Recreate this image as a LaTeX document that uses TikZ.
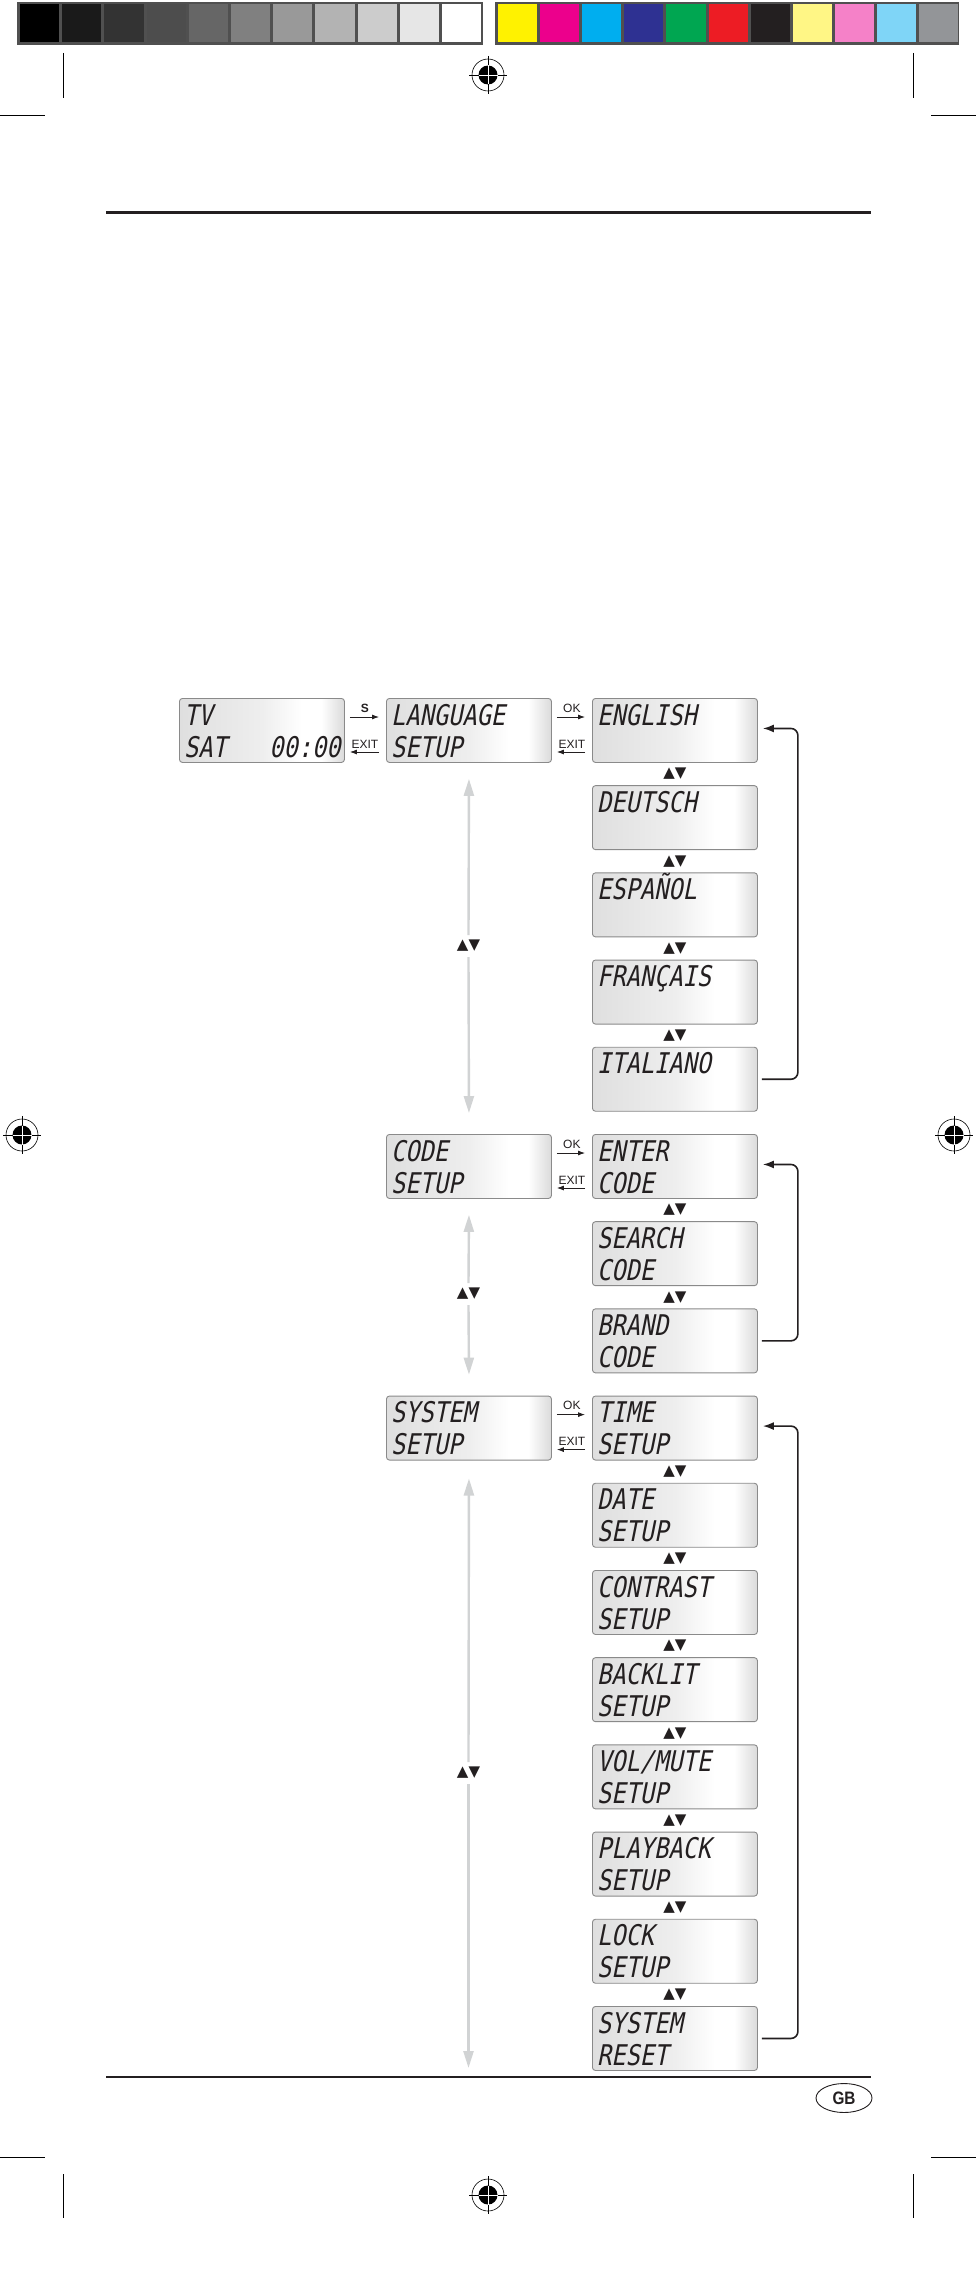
\documentclass[tikz,border=0pt]{standalone}
\usepackage{fontspec}
\setmainfont{Liberation Sans}
\newfontfamily\lcdfont[FakeStretch=0.83,FakeSlant=0.2]{DejaVu Sans Mono}
\newfontfamily\symfont{DejaVu Sans}
\newfontfamily\gbfont[FakeStretch=0.85]{Liberation Sans}
\usetikzlibrary{arrows.meta,calc,shapes.geometric}

\definecolor{lcdA}{HTML}{DFDFDF}
\definecolor{lcdB}{HTML}{EEEEEE}
\definecolor{lcdC}{HTML}{EAEAEA}
\definecolor{lcdD}{HTML}{DADADA}
\definecolor{boxedge}{HTML}{8A8A8A}
\definecolor{ink}{HTML}{231F20}
\definecolor{arrowgray}{HTML}{D1D3D4}
\definecolor{framegray}{HTML}{505050}

\pgfdeclarehorizontalshading{lcdshade}{100bp}{color(0bp)=(lcdA); color(25bp)=(lcdA); color(50bp)=(lcdB); color(62bp)=(white); color(68bp)=(white); color(72bp)=(lcdC); color(75bp)=(lcdD); color(100bp)=(lcdD)}

\tikzset{
  lcdbox/.style={rectangle, rounded corners=3pt, draw=boxedge, line width=0.9pt,
    shading=lcdshade, minimum width=165pt, minimum height=64pt, anchor=north west, inner sep=0pt},
  lcdtext/.style={font=\lcdfont\fontsize{28.5}{28.5}\selectfont, anchor=base west, inner sep=0pt, text=ink},
  keylab/.style={font=\fontsize{12}{12}\selectfont, inner sep=0pt, anchor=base, text=ink},
  updn/.style={font=\symfont\fontsize{15}{15}\selectfont, inner sep=0pt, text=ink},
  navarrow/.style={draw=ink, -{Latex[length=7pt,width=5pt]}, line width=0.8pt},
  loopline/.style={draw=ink, -{Latex[length=11pt,width=8pt]}, line width=1.6pt, rounded corners=7pt},
  grayarr/.style={draw=arrowgray, line width=2.4pt, -{Triangle[length=17pt,width=10pt]}},
  cropline/.style={draw=black, line width=0.8pt},
}

\newcommand\lcdpanel[5]{%
  \node[lcdbox] (#1) at (#2,#3) {};
  \node[lcdtext] (#1-a) at ($(#1.north west)+(5,27)$) {#4};
  \node[lcdtext] (#1-b) at ($(#1.north west)+(5,59)$) {#5};
}
\newcommand\regmark[3]{%
  \draw[line width=0.6pt] (#2,#3) circle[radius=16];
  \draw[line width=0.8pt] (#2-19,#3) -- (#2+19,#3) (#2,#3-19) -- (#2,#3+19);
  \fill[black] (#2,#3) circle[radius=9.5];
  \draw[white, line width=0.8pt] (#2-9.5,#3) -- (#2+9.5,#3) (#2,#3-9.5) -- (#2,#3+9.5);
  \coordinate (#1) at (#2,#3);
}
\newcommand\navpair[4]{%
  \draw[navarrow] ($(#1.north east)+(5,19)$) -- ($(#2.north west)+(-7,19)$);
  \node[keylab] (#1-#2-fl) at ($(#1.north east)+(20,14)$) {#3};
  \draw[navarrow] ($(#2.north west)+(-7,54)$) -- ($(#1.north east)+(5,54)$);
  \node[keylab] (#1-#2-bl) at ($(#1.north east)+(20,50)$) {#4};
}

\begin{document}
\begin{tikzpicture}[x=1pt,y=-1pt]
\fill[white] (0,0) rectangle (976,2272);
\useasboundingbox (0,0) rectangle (976,2272);

% colour bars
\fill[framegray] (17,2) rectangle (483,45);
\foreach \c [count=\i from 0] in {000000,1A1A1A,333333,4D4D4D,666666,808080,999999,B3B3B3,CCCCCC,E6E6E6,FFFFFF}{
  \definecolor{cc}{HTML}{\c}
  \fill[cc] ({20+\i*42.2},4.5) rectangle ({20+\i*42.2+39.2},42.5);
}
\fill[framegray] (495,2) rectangle (959,45);
\foreach \c [count=\i from 0] in {FFF200,EC008C,00AEEF,2E3192,00A651,ED1C24,231F20,FFF685,F581C8,7FD5F7,939598}{
  \definecolor{cc}{HTML}{\c}
  \fill[cc] ({498+\i*42.1},4.5) rectangle ({498+\i*42.1+39.1},42.5);
}

% crop marks
\draw[cropline] (63.5,53) -- (63.5,98) (913,53) -- (913,98);
\draw[cropline] (0,115) -- (45,115) (931,115) -- (976,115);
\draw[cropline] (0,2157) -- (45,2157) (931,2157) -- (976,2157);
\draw[cropline] (63.5,2174) -- (63.5,2218) (913,2174) -- (913,2218);
\regmark{regtop}{488}{75}
\regmark{regbot}{488}{2195}
\regmark{regleft}{22}{1135}
\regmark{regright}{954}{1135}

% rules
\draw[ink, line width=3pt] (106,212.5) -- (871,212.5);
\draw[ink, line width=1.2pt] (106,2077) -- (871,2077);
\node[ellipse, draw=ink, line width=0.9pt, minimum width=56pt, minimum height=29pt, inner sep=0pt,
  font=\gbfont\bfseries\fontsize{18}{18}\selectfont, text=ink] (gb) at (844,2098) {GB};

% panels
\lcdpanel{tv}{179}{698}{TV}{SAT}
\node[lcdtext, anchor=base east] (tv-c) at ($(tv.north east)+(-4,59)$) {00:00};
\lcdpanel{lang}{386}{698}{LANGUAGE}{SETUP}
\lcdpanel{eng}{592}{698}{ENGLISH}{}
\lcdpanel{deu}{592}{785.2}{DEUTSCH}{}
\lcdpanel{esp}{592}{872.4}{ESPAÑOL}{}
\lcdpanel{fra}{592}{959.6}{FRANÇAIS}{}
\lcdpanel{ita}{592}{1046.8}{ITALIANO}{}
\lcdpanel{code}{386}{1134}{CODE}{SETUP}
\lcdpanel{enter}{592}{1134}{ENTER}{CODE}
\lcdpanel{search}{592}{1221.2}{SEARCH}{CODE}
\lcdpanel{brand}{592}{1308.4}{BRAND}{CODE}
\lcdpanel{sys}{386}{1395.6}{SYSTEM}{SETUP}
\lcdpanel{time}{592}{1395.6}{TIME}{SETUP}
\lcdpanel{date}{592}{1482.8}{DATE}{SETUP}
\lcdpanel{contr}{592}{1570}{CONTRAST}{SETUP}
\lcdpanel{back}{592}{1657.2}{BACKLIT}{SETUP}
\lcdpanel{vol}{592}{1744.4}{VOL/MUTE}{SETUP}
\lcdpanel{play}{592}{1831.6}{PLAYBACK}{SETUP}
\lcdpanel{lock}{592}{1918.8}{LOCK}{SETUP}
\lcdpanel{reset}{592}{2006}{SYSTEM}{RESET}

% up/down marks between column-2 panels
\foreach \a in {eng,deu,esp,fra,enter,search,time,date,contr,back,vol,play,lock}{
  \node[updn] (ud-\a) at ($(\a.south)+(0,11)$) {▲▼};
}

% navigation arrows
\navpair{tv}{lang}{\textbf{S}}{EXIT}
\navpair{lang}{eng}{OK}{EXIT}
\navpair{code}{enter}{OK}{EXIT}
\navpair{sys}{time}{OK}{EXIT}

% loops
\draw[loopline] ($(ita.east)+(4,0)$) -- ++(36,0) |- ($(eng.east)+(5,-2)$);
\draw[loopline] ($(brand.east)+(4,0)$) -- ++(36,0) |- ($(enter.east)+(5,-2)$);
\draw[loopline] ($(reset.east)+(4,0)$) -- ++(36,0) |- ($(time.east)+(5,-2)$);

% grey vertical arrows
\node[updn] (v1) at (468.5,946) {▲▼};
\draw[grayarr] ($(v1.center)+(0,-11)$) -- ($(lang.south)+(0,16)$);
\draw[grayarr] ($(v1.center)+(0,11)$) -- ($(code.north)+(0,-21)$);
\node[updn] (v2) at (468.5,1294) {▲▼};
\draw[grayarr] ($(v2.center)+(0,-11)$) -- ($(code.south)+(0,16)$);
\draw[grayarr] ($(v2.center)+(0,11)$) -- ($(sys.north)+(0,-21)$);
\node[updn] (v3) at (468.5,1773) {▲▼};
\coordinate (v3end) at (468.5,2068);
\draw[grayarr] ($(v3.center)+(0,-11)$) -- ($(sys.south)+(0,18)$);
\draw[grayarr] ($(v3.center)+(0,11)$) -- (v3end);
\end{tikzpicture}
\end{document}
